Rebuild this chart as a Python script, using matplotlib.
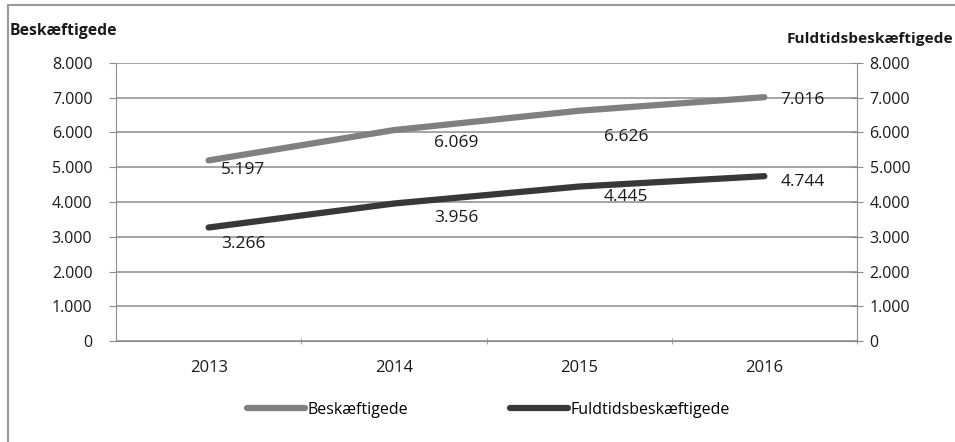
import matplotlib.pyplot as plt
from matplotlib.patches import Rectangle
from matplotlib.ticker import FixedLocator, FuncFormatter

years = ["2013", "2014", "2015", "2016"]
beskaeftigede = [5197, 6069, 6626, 7016]
fuldtids = [3266, 3956, 4445, 4744]

# label offsets in pixels (label centre relative to the point)
besk_offsets = [(34, -10), (62, -13), (47, -26), (38, -3)]
fuld_offsets = [(35, -16), (62, -14), (47, -10), (38, -6)]

GRAY = "#808080"
DARK = "#383838"
AXIS = "#8c8c8c"
TEXT = "#1a1a1a"

plt.rcParams["font.family"] = ["Open Sans", "DejaVu Sans"]


def dk(v, _pos=None):
    return f"{int(v):,}".replace(",", ".")


fig = plt.figure(figsize=(9.55, 4.42), dpi=100)
fig.patches.append(Rectangle((8 / 955, -0.1), 1.2, (442 - 5) / 442 + 0.1,
                             transform=fig.transFigure, fill=False,
                             edgecolor="#9a9a9a", linewidth=1.5, zorder=0))

ax = fig.add_axes([116 / 955, 101 / 442, 741 / 955, 278 / 442])
ax2 = ax.twinx()

x = list(range(len(years)))
ax.plot(x, beskaeftigede, color=GRAY, linewidth=4.5, solid_capstyle="round",
        label="Beskæftigede", zorder=3)
ax2.plot(x, fuldtids, color=DARK, linewidth=4.5, solid_capstyle="round",
         label="Fuldtidsbeskæftigede", zorder=3)

for xi, v, off in zip(x, beskaeftigede, besk_offsets):
    ax.annotate(dk(v), (xi, v), xytext=off, textcoords="offset pixels",
                ha="center", va="center", fontsize=12.5, color=TEXT)
for xi, v, off in zip(x, fuldtids, fuld_offsets):
    ax2.annotate(dk(v), (xi, v), xytext=off, textcoords="offset pixels",
                 ha="center", va="center", fontsize=12.5, color=TEXT)

for a in (ax, ax2):
    a.set_ylim(0, 8000)
    a.set_xlim(-0.5, 3.5)
    a.yaxis.set_major_locator(FixedLocator(range(0, 8001, 1000)))
    a.yaxis.set_major_formatter(FuncFormatter(dk))
    for s in a.spines.values():
        s.set_visible(False)

ax.grid(axis="y", color=AXIS, linewidth=1.1)
ax.set_axisbelow(True)
ax.spines["left"].set_visible(True)
ax.spines["left"].set_color(AXIS)
ax.spines["bottom"].set_visible(True)
ax.spines["bottom"].set_color(AXIS)
ax2.spines["right"].set_visible(True)
ax2.spines["right"].set_color(AXIS)

ax.set_xticks(x)
ax.set_xticklabels(years)
ax.set_xticks([0.5, 1.5, 2.5, 3.5], minor=True)
ax.tick_params(axis="x", which="major", length=0, pad=14, labelsize=12,
               labelcolor=TEXT)
ax.tick_params(axis="x", which="minor", length=5, color=AXIS, direction="inout")
ax.tick_params(axis="y", length=5, color=AXIS, direction="out", pad=12,
               labelsize=11.5, labelcolor=TEXT)
ax2.tick_params(axis="y", length=8, color=AXIS, direction="inout", pad=5,
                labelsize=11.5, labelcolor=TEXT)

fig.text(10 / 955, 1 - 31 / 442, "Beskæftigede", fontsize=11.3, fontweight="bold",
         ha="left", va="center", color=TEXT)
fig.text(953 / 955, 1 - 39 / 442, "Fuldtidsbeskæftigede", fontsize=11.1,
         fontweight="bold", ha="right", va="center", color=TEXT)

h1, l1 = ax.get_legend_handles_labels()
h2, l2 = ax2.get_legend_handles_labels()
fig.legend(h1 + h2, l1 + l2, loc="center", bbox_to_anchor=(488.5 / 955, 1 - 410 / 442),
           ncol=2, frameon=False, fontsize=11.5, handlelength=3.6,
           handletextpad=0.15, columnspacing=6.4)

fig.savefig("out.png", dpi=100, facecolor="white")
